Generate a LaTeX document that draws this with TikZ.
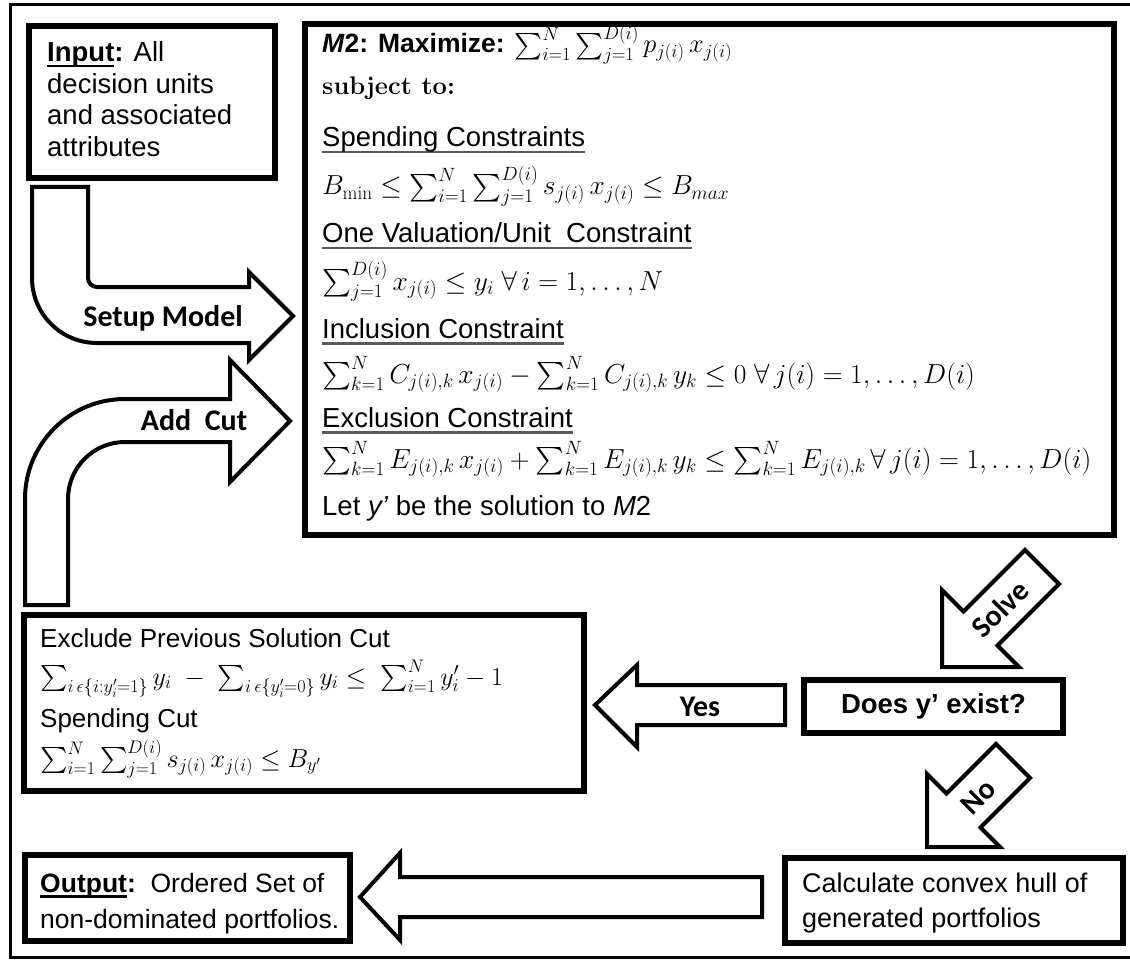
\RequirePackage{fix-cm}
\documentclass[tikz,border=0pt]{standalone}
\usepackage{fontspec}
% let the large operators follow the font size
\DeclareFontShape{OMX}{cmex}{m}{n}{<-> cmex10}{}
\newfontfamily\arial{Liberation Sans}
\newfontfamily\calib{Carlito}
\definecolor{ulgray}{gray}{0.35}
% underline drawn as a rule below the text
\newcommand\grayul[1]{\setbox0=\hbox{#1}\rlap{\textcolor{ulgray}{\rule[-6.5pt]{\wd0}{2.6pt}}}\box0}
\newcommand\blackul[1]{\setbox0=\hbox{#1}\rlap{\rule[-5.5pt]{\wd0}{2.4pt}}\box0}
\tikzset{
  box/.style={draw, line width=6pt, inner sep=0pt},
  blk/.style={draw, line width=4pt, fill=white, line join=miter, miter limit=10},
  txt/.style={anchor=base west, inner sep=0pt,
              font=\arial\fontsize{27.5}{31.5}\selectfont},
  cuttxt/.style={txt, font=\arial\fontsize{26}{30}\selectfont},
  lab/.style={inner sep=0pt, font=\calib\bfseries\fontsize{30}{32}\selectfont}
}
\begin{document}
\begin{tikzpicture}[x=1pt,y=-1pt]
\useasboundingbox (0,0) rectangle (1130,960);
\fill[white] (0,0) rectangle (1130,960);
% outer frame
\draw[line width=3pt] (1130,5) -- (10,5) -- (10,957) -- (1130,957);

% boxes
\node[box, minimum width=246pt, minimum height=151.5pt] (input) at (152,102.25) {};
\node[box, minimum width=809pt, minimum height=511pt] (model) at (709.5,279.5) {};
\node[box, minimum width=560pt, minimum height=176pt] (cuts) at (303.5,703) {};
\node[box, minimum width=259pt, minimum height=53pt,
      font=\arial\bfseries\fontsize{27.5}{29}\selectfont] (test) at (933.5,706.5) {Does y’ exist?};
\node[box, minimum width=338pt, minimum height=85pt] (hull) at (954,900.5) {};
\node[box, minimum width=325.5pt, minimum height=86pt] (output) at (187.25,898) {};

% input text
\node[txt] (in1) at (47,62) {\blackul{\textbf{Input}}\textbf{:} All};
\node[txt] (in2) at (47,93.5) {decision units};
\node[txt] (in3) at (47,125) {and associated};
\node[txt] (in4) at (47,156.5) {attributes};

% model text
\node[txt, font=\arial\bfseries\fontsize{26.5}{30}\selectfont] (m1) at (322,53)
  {\textit{M}2: Maximize: $\sum_{i=1}^{N}\sum_{j=1}^{D(i)} p_{j(i)}\,x_{j(i)}$};
\node[txt, font=\rmfamily\bfseries\fontsize{25.5}{30}\selectfont] (m2) at (322,95) {subject to:};
\node[txt] (m3) at (322,147) {\grayul{Spending Constraints}};
\node[txt] (m4) at (322,195)
  {$B_{\min} \le \sum_{i=1}^{N}\sum_{j=1}^{D(i)} s_{j(i)}\,x_{j(i)} \le B_{max}$};
\node[txt] (m5) at (322,243) {\grayul{One Valuation/Unit~ Constraint}};
\node[txt] (m6) at (322,290)
  {$\sum_{j=1}^{D(i)} x_{j(i)} \le y_i\ \forall\, i = 1, \dots, N$};
\node[txt] (m7) at (322,338) {\grayul{Inclusion Constraint}};
\node[txt] (m8) at (322,383)
  {$\sum_{k=1}^{N} C_{j(i),k}\,x_{j(i)} - \sum_{k=1}^{N} C_{j(i),k}\,y_k \le 0\ \forall\, j(i) = 1, \dots, D(i)$};
\node[txt] (m9) at (322,427) {\grayul{Exclusion Constraint}};
\node[txt] (m10) at (322,468)
  {$\sum_{k=1}^{N} E_{j(i),k}\,x_{j(i)} + \sum_{k=1}^{N} E_{j(i),k}\,y_k \le \sum_{k=1}^{N} E_{j(i),k}\,\forall\, j(i) = 1, \dots, D(i)$};
\node[txt] (m11) at (322,515) {Let \textit{y’} be the solution to \textit{M}2};

% cut text
\node[cuttxt] (c1) at (40,647) {Exclude Previous Solution Cut};
\node[cuttxt] (c2) at (40,685)
  {$\sum_{i\,\epsilon\{i:y'_i=1\}} y_i \;-\; \sum_{i\,\epsilon\{y'_i=0\}} y_i \le\ \sum_{i=1}^{N} y'_i - 1$};
\node[cuttxt] (c3) at (40,727) {Spending Cut};
\node[cuttxt] (c4) at (40,767)
  {$\sum_{i=1}^{N}\sum_{j=1}^{D(i)} s_{j(i)}\,x_{j(i)} \le B_{y'}$};

% hull and output text
\node[txt, font=\arial\fontsize{27}{35}\selectfont] (h1) at (802,892) {Calculate convex hull of};
\node[txt, font=\arial\fontsize{27}{35}\selectfont] (h2) at (802,927) {generated portfolios};
\node[txt, font=\arial\fontsize{26.5}{36}\selectfont] (o1) at (40,892)
  {\blackul{\textbf{Output}}\textbf{:}\ \ Ordered Set of};
\node[txt, font=\arial\fontsize{26.5}{36}\selectfont] (o2) at (40,928) {non-dominated portfolios.};

% curved arrow from input into the model
\draw[blk] (32,187) -- (88,187) -- (88,278) arc (180:90:9) -- (249,287) -- (249,272)
  -- (293,316) -- (249,360) -- (249,343) -- (97,343) arc (90:180:65) -- cycle;
\node[lab] (setup) at (163,318) {Setup Model};

% curved arrow carrying the cut back to the model
\draw[blk] (25,605) -- (25,499) arc (180:270:100) -- (230,399) -- (230,360)
  -- (290,421) -- (230,482) -- (230,442) -- (125,442) arc (270:180:57) -- (68,605) -- cycle;
\node[lab] (addcut) at (194,420) {Add\ \ Cut};

% diagonal arrows
\begin{scope}[shift={(942,667)}]
  \draw[blk] (83,-117) -- (21.5,-55.5) -- (0,-77) -- (0,0)
    -- (77,0) -- (55.5,-21.5) -- (117,-83) -- cycle;
\end{scope}
\node[lab, rotate=45] (solve) at (1000,609) {Solve};
\begin{scope}[shift={(927,847)}]
  \draw[blk] (69,-103) -- (19.5,-53.5) -- (0,-73) -- (0,0)
    -- (73,0) -- (53.5,-19.5) -- (103,-69) -- cycle;
\end{scope}
\node[lab, rotate=45] (no) at (978,797) {No};

% yes arrow
\draw[blk] (785,685) -- (637,685) -- (637,665) -- (595,705) -- (637,747)
  -- (637,725) -- (785,725) -- cycle;
\node[lab] (yes) at (700,707) {Yes};

% arrow to the output
\draw[blk] (762,877) -- (400,877) -- (400,853) -- (360,897) -- (400,940)
  -- (400,917) -- (762,917) -- cycle;
\end{tikzpicture}
\end{document}
